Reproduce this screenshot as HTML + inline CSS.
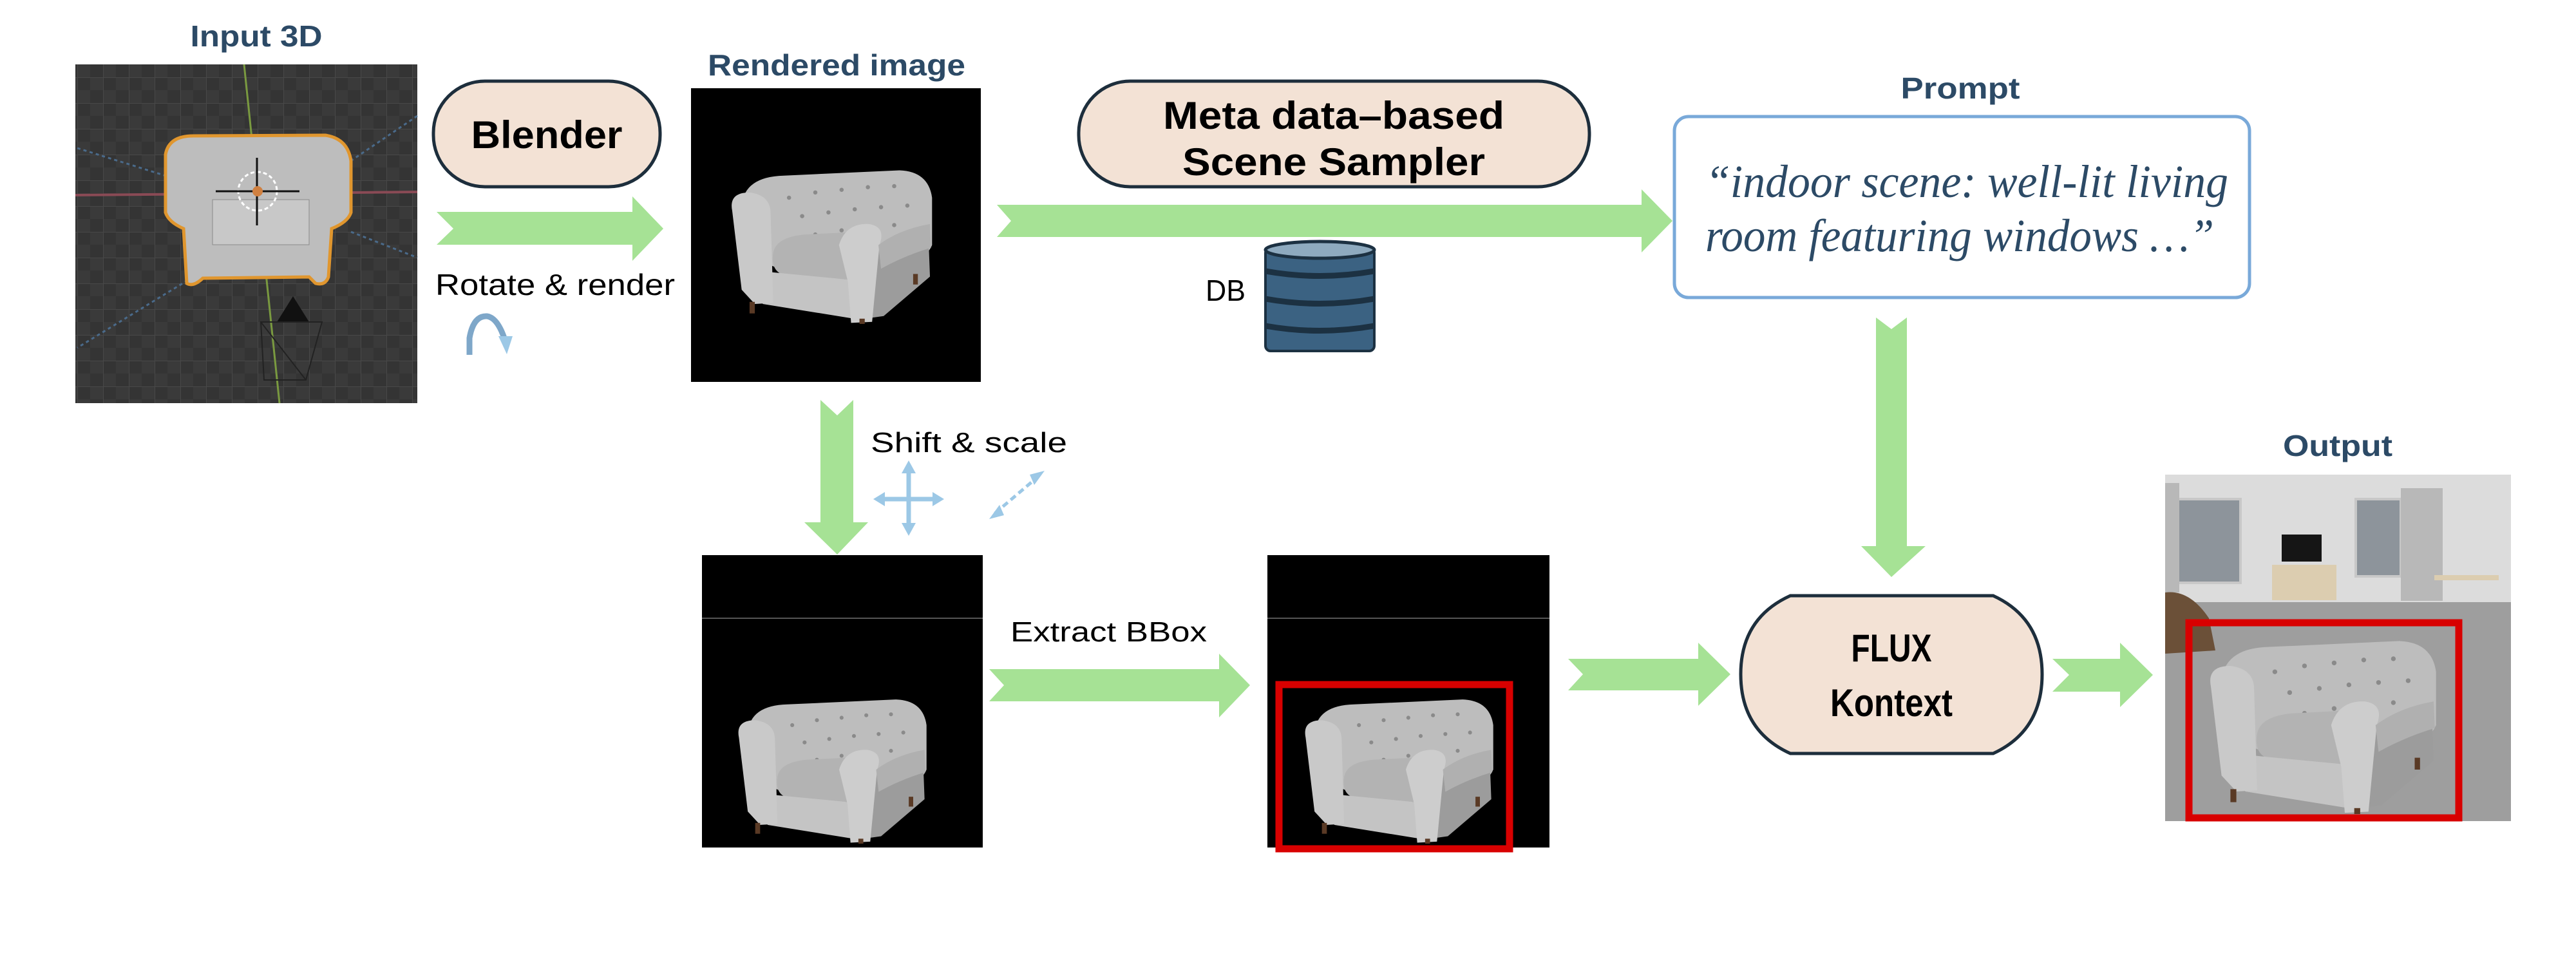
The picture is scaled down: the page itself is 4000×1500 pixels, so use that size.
<!DOCTYPE html>
<html><head><meta charset="utf-8"><style>
html,body{margin:0;padding:0;background:#fff;}
svg{display:block;}
.lbl{font-family:"Liberation Sans Narrow","Liberation Sans",sans-serif;font-weight:bold;fill:#2c4a66;}
.blk{font-family:"Liberation Sans Narrow","Liberation Sans",sans-serif;fill:#000;}
</style></head><body>
<svg width="4000" height="1500" viewBox="0 0 4000 1500" xmlns="http://www.w3.org/2000/svg">
<defs>
<symbol id="chair" viewBox="0 0 400 300">
  <path d="M30,75 Q35,20 110,18 L330,8 Q385,10 392,60 L392,150 Q380,180 330,185 L120,200 Q40,180 30,130 Z" fill="#bdbdbd"/>
  <g fill="#8a8a8a">
    <circle cx="120" cy="60" r="4"/><circle cx="170" cy="50" r="4"/><circle cx="220" cy="45" r="4"/><circle cx="270" cy="40" r="4"/><circle cx="320" cy="38" r="4"/>
    <circle cx="145" cy="95" r="4"/><circle cx="195" cy="88" r="4"/><circle cx="245" cy="82" r="4"/><circle cx="295" cy="78" r="4"/><circle cx="345" cy="75" r="4"/>
    <circle cx="170" cy="130" r="4"/><circle cx="220" cy="122" r="4"/><circle cx="270" cy="116" r="4"/><circle cx="320" cy="112" r="4"/>
  </g>
  <path d="M250,160 L385,130 L388,210 L300,285 L250,292 Z" fill="#9c9c9c"/>
  <path d="M90,165 Q95,135 150,130 L250,125 Q272,130 266,170 L256,218 L105,205 Q85,195 90,165 Z" fill="#b3b3b3"/>
  <path d="M70,200 L256,218 L256,292 L70,262 Z" fill="#c4c4c4"/>
  <path d="M12,85 Q5,50 45,50 Q85,55 85,90 L90,260 L55,262 L30,235 Z" fill="#c9c9c9"/>
  <path d="M215,150 Q228,108 272,110 Q305,115 292,150 L278,296 L238,298 L232,220 Z" fill="#cdcdcd"/>
  <path d="M290,150 Q330,120 388,110 L390,155 Q340,170 295,195 Z" fill="#b0b0b0"/>
  <rect x="45" y="258" width="10" height="22" fill="#5a3a25"/>
  <rect x="254" y="290" width="10" height="10" fill="#5a3a25"/>
  <rect x="356" y="205" width="9" height="20" fill="#5a3a25"/>
</symbol>
<pattern id="grid" width="40" height="40" patternUnits="userSpaceOnUse">
  <rect width="40" height="40" fill="#3a3a3a"/>
  <rect width="20" height="20" fill="#343434"/>
  <rect x="20" y="20" width="20" height="20" fill="#343434"/>
  <path d="M0,0 H40 M0,0 V40" stroke="#484848" stroke-width="2"/>
</pattern>
</defs>

<text x="398" y="72" text-anchor="middle" class="lbl" font-size="46" textLength="205" lengthAdjust="spacingAndGlyphs">Input 3D</text>
<rect x="117" y="100" width="531" height="526" fill="url(#grid)"/>
<line x1="117" y1="303" x2="648" y2="298" stroke="#8a4a55" stroke-width="4"/>
<line x1="379" y1="100" x2="434" y2="626" stroke="#7a9a40" stroke-width="3"/>
<path d="M120,230 L280,280 M648,180 L500,280 M300,430 L120,540 M545,360 L648,400" stroke="#4a6a8a" stroke-width="3" stroke-dasharray="5,5" fill="none"/>
<path d="M257,240 Q262,211 300,211 L505,210 Q540,215 545,250 L545,330 Q540,345 515,355 L510,430 Q505,444 490,440 L480,430 L315,432 Q300,446 290,440 L285,355 Q262,345 257,330 Z" fill="#bdbdbd" stroke="#e0962e" stroke-width="5"/>
<rect x="330" y="310" width="150" height="70" fill="#c8c8c8" stroke="#8a8a8a"/>
<circle cx="400" cy="297" r="30" fill="none" stroke="#fff" stroke-width="3" stroke-dasharray="6,4"/>
<line x1="335" y1="297" x2="465" y2="297" stroke="#111" stroke-width="3"/>
<line x1="399" y1="245" x2="399" y2="350" stroke="#111" stroke-width="3"/>
<circle cx="400" cy="297" r="8" fill="#d08040"/>
<polygon points="430,500 455,460 480,500" fill="#111"/>
<path d="M405,500 L500,500 L475,590 L410,590 Z M405,500 L475,590" fill="none" stroke="#222" stroke-width="2"/>

<rect x="673" y="126" width="352" height="164" rx="80" fill="#f3e2d5" stroke="#1d2e3c" stroke-width="5"/>
<text x="849" y="230" text-anchor="middle" class="blk" font-weight="bold" font-size="60" textLength="235" lengthAdjust="spacingAndGlyphs">Blender</text>
<path d="M678,329 L982,329 L982,305 L1030,355 L982,405 L982,380 L678,380 L704,355 Z" fill="#a6e295"/>
<text x="676" y="458" class="blk" font-size="46" textLength="372" lengthAdjust="spacingAndGlyphs">Rotate &amp; render</text>
<path d="M729,551 L729,525 Q735,490 756,491 Q772,493 783,525" fill="none" stroke="#7ea7c9" stroke-width="9"/>
<polygon points="774,522 796,522 787,550" fill="#9cc8e6"/>

<text x="1299" y="117" text-anchor="middle" class="lbl" font-size="46" textLength="400" lengthAdjust="spacingAndGlyphs">Rendered image</text>
<rect x="1073" y="137" width="450" height="456" fill="#000"/>
<use href="#chair" x="1122" y="258" width="337" height="245"/>

<rect x="1675" y="126" width="793" height="164" rx="80" fill="#f3e2d5" stroke="#1d2e3c" stroke-width="5"/>
<text x="2071" y="200" text-anchor="middle" class="blk" font-weight="bold" font-size="60" textLength="530" lengthAdjust="spacingAndGlyphs">Meta data–based</text>
<text x="2071" y="272" text-anchor="middle" class="blk" font-weight="bold" font-size="60" textLength="470" lengthAdjust="spacingAndGlyphs">Scene Sampler</text>
<path d="M1548,318 L2549,318 L2549,294 L2597,343 L2549,392 L2549,368 L1548,368 L1570,343 Z" fill="#a6e295"/>

<text x="1872" y="467" class="blk" font-size="46" textLength="62" lengthAdjust="spacingAndGlyphs">DB</text>
<rect x="1965" y="385" width="169" height="160" rx="8" fill="#3b6282" stroke="#1c3142" stroke-width="4"/>
<ellipse cx="2049.5" cy="388" rx="84.5" ry="13" fill="#8eaabf" stroke="#1c3142" stroke-width="5"/>
<path d="M1965,421 Q2049,436 2134,421 M1965,464 Q2049,479 2134,464 M1965,506 Q2049,521 2134,506" fill="none" stroke="#1c3142" stroke-width="9"/>

<text x="3044" y="153" text-anchor="middle" class="lbl" font-size="46" textLength="185" lengthAdjust="spacingAndGlyphs">Prompt</text>
<rect x="2600" y="181" width="893" height="281" rx="22" fill="#fff" stroke="#79a9d9" stroke-width="5"/>
<text x="2648" y="306" font-family="Liberation Serif,serif" font-style="italic" font-size="72" fill="#2c4a66" textLength="812" lengthAdjust="spacingAndGlyphs">“indoor scene: well-lit living</text>
<text x="2648" y="390" font-family="Liberation Serif,serif" font-style="italic" font-size="72" fill="#2c4a66" textLength="790" lengthAdjust="spacingAndGlyphs">room featuring windows …”</text>
<path d="M2913,493 L2937,511 L2961,493 L2961,848 L2990,848 L2937,896 L2890,848 L2913,848 Z" fill="#a6e295"/>

<path d="M1274,621 L1300,645 L1325,621 L1325,811 L1348,811 L1300,861 L1249,811 L1274,811 Z" fill="#a6e295"/>
<text x="1352" y="702" class="blk" font-size="44" textLength="305" lengthAdjust="spacingAndGlyphs">Shift &amp; scale</text>
<g stroke="#9cc8e6" stroke-width="7" fill="#9cc8e6">
<line x1="1411" y1="730" x2="1411" y2="820"/>
<line x1="1368" y1="775" x2="1455" y2="775"/>
<polygon points="1411,715 1400,735 1422,735" stroke="none"/>
<polygon points="1411,832 1400,812 1422,812" stroke="none"/>
<polygon points="1356,775 1374,764 1374,786" stroke="none"/>
<polygon points="1466,775 1448,764 1448,786" stroke="none"/>
<line x1="1545" y1="797" x2="1612" y2="740" stroke-dasharray="10,6" stroke-width="5"/>
<polygon points="1536,806 1552,784 1559,800" stroke="none"/>
<polygon points="1622,731 1606,753 1599,737" stroke="none"/>
</g>

<rect x="1090" y="862" width="436" height="454" fill="#000"/>
<line x1="1090" y1="960" x2="1526" y2="960" stroke="#555" stroke-width="2"/>
<use href="#chair" x="1124" y="1080" width="335" height="230"/>
<text x="1569" y="996" class="blk" font-size="44" textLength="305" lengthAdjust="spacingAndGlyphs">Extract BBox</text>
<path d="M1536,1039 L1893,1039 L1893,1015 L1941,1064 L1893,1114 L1893,1089 L1536,1089 L1559,1064 Z" fill="#a6e295"/>

<rect x="1968" y="862" width="438" height="454" fill="#000"/>
<line x1="1968" y1="960" x2="2406" y2="960" stroke="#555" stroke-width="2"/>
<use href="#chair" x="2004" y="1080" width="335" height="230"/>
<rect x="1986" y="1063" width="358" height="255" fill="none" stroke="#d80000" stroke-width="11"/>
<path d="M2435,1023 L2637,1023 L2637,998 L2687,1047 L2637,1096 L2637,1072 L2435,1072 L2458,1047 Z" fill="#a6e295"/>

<path d="M2780,925 L3095,925 Q3171,960 3171,1047 Q3171,1135 3095,1170 L2780,1170 Q2703,1135 2703,1047 Q2703,960 2780,925 Z" fill="#f3e2d5" stroke="#1d2e3c" stroke-width="5"/>
<text x="2937" y="1027" text-anchor="middle" class="blk" font-weight="bold" font-size="60" textLength="125" lengthAdjust="spacingAndGlyphs">FLUX</text>
<text x="2937" y="1112" text-anchor="middle" class="blk" font-weight="bold" font-size="60" textLength="190" lengthAdjust="spacingAndGlyphs">Kontext</text>
<path d="M3187,1023 L3292,1023 L3292,998 L3343,1048 L3292,1098 L3292,1074 L3187,1074 L3213,1048 Z" fill="#a6e295"/>

<text x="3630" y="708" text-anchor="middle" class="lbl" font-size="46" textLength="170" lengthAdjust="spacingAndGlyphs">Output</text>
<rect x="3362" y="737" width="537" height="538" fill="#dcdcdc"/>
<rect x="3362" y="935" width="537" height="340" fill="#9e9e9e"/>
<rect x="3379" y="775" width="100" height="130" fill="#8d949b" stroke="#c8c8c8" stroke-width="4"/>
<rect x="3658" y="775" width="70" height="120" fill="#8d949b" stroke="#c8c8c8" stroke-width="4"/>
<rect x="3728" y="758" width="65" height="175" fill="#b8b8b8"/>
<rect x="3362" y="750" width="22" height="170" fill="#b8b8b8"/>
<rect x="3543" y="830" width="62" height="42" fill="#151515"/>
<rect x="3528" y="877" width="100" height="55" fill="#dccdb0"/>
<rect x="3780" y="893" width="100" height="8" fill="#dccdb0"/>
<path d="M3362,920 Q3400,915 3430,960 L3440,1010 L3362,1015 Z" fill="#6b5038"/>
<use href="#chair" x="3412" y="988" width="388" height="276"/>
<rect x="3399" y="967" width="419" height="303" fill="none" stroke="#d80000" stroke-width="11"/>
</svg>
</body></html>
